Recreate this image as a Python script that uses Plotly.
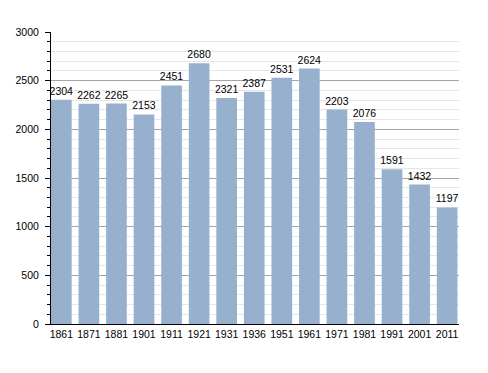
import plotly.graph_objects as go

years = ["1861", "1871", "1881", "1901", "1911", "1921", "1931", "1936", "1951", "1961", "1971", "1981", "1991", "2001", "2011"]
population = [2304, 2262, 2265, 2153, 2451, 2680, 2321, 2387, 2531, 2624, 2203, 2076, 1591, 1432, 1197]

FONT = "Liberation Sans, Arial, sans-serif"

fig = go.Figure()
fig.add_trace(go.Bar(
    x=years, y=population,
    marker=dict(color="rgb(150,176,206)", line=dict(width=0)),
    text=[str(v) for v in population], textposition="outside",
    textfont=dict(family=FONT, size=10.5, color="black"),
    constraintext="none",
    cliponaxis=False,
))
fig.update_layout(
    width=480, height=365,
    margin=dict(l=43, r=29, t=24, b=49, autoexpand=False),
    paper_bgcolor="white", plot_bgcolor="white",
    bargap=0.25, showlegend=False,
    font=dict(family=FONT, size=10.5, color="black"),
)
fig.update_xaxes(
    type="category", range=[-0.375, 14.43],
    showline=True, linecolor="black", linewidth=1,
    ticks="", showgrid=False, tickfont=dict(size=10.5),
)
fig.update_yaxes(
    range=[0, 3000], dtick=500, showline=True, linecolor="black", linewidth=1,
    ticks="outside", ticklen=5, tickcolor="black", ticklabelstandoff=4,
    showgrid=True, gridcolor="rgb(165,165,165)", gridwidth=1,
    zeroline=False, tickfont=dict(size=10.5),
    minor=dict(dtick=100, ticks="outside", ticklen=3, tickcolor="black",
               showgrid=True, gridcolor="rgb(230,230,230)", gridwidth=1),
)
fig.write_html("out.html")
